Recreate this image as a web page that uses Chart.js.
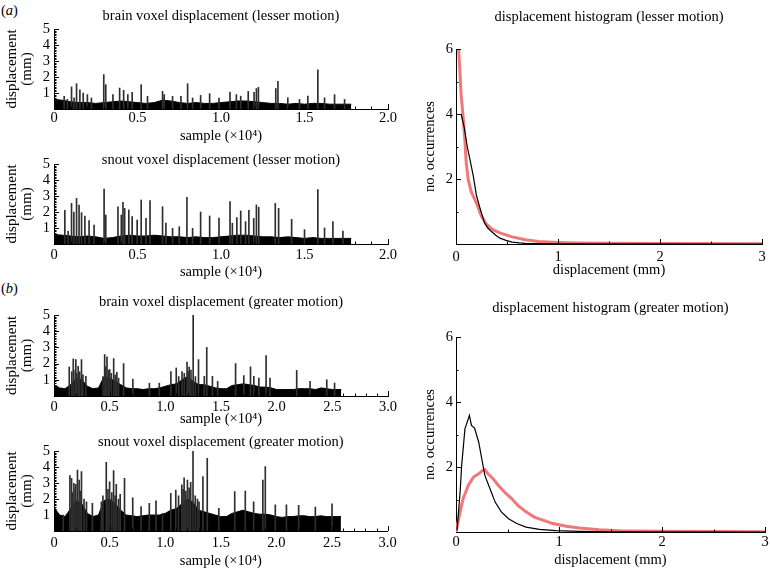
<!DOCTYPE html>
<html>
<head>
<meta charset="utf-8">
<script src="https://cdn.jsdelivr.net/npm/chart.js@4.4.1/dist/chart.umd.min.js"></script>
<style>
body { margin: 0; background: #fff; width: 770px; height: 570px; position: relative; overflow: hidden; }
canvas { position: absolute; }
.tag { position: absolute; font: 14.5px "Liberation Serif", serif; color: #000; }
</style>
</head>
<body>
<div class="tag" style="left:1px;top:2px">(<i>a</i>)</div>
<div class="tag" style="left:1px;top:280px">(<i>b</i>)</div>
<canvas id="brainLesser" width="400" height="145" style="left:0;top:0"></canvas>
<canvas id="snoutLesser" width="400" height="137" style="left:0;top:145px"></canvas>
<canvas id="brainGreater" width="400" height="146" style="left:0;top:282px"></canvas>
<canvas id="snoutGreater" width="400" height="142" style="left:0;top:428px"></canvas>
<canvas id="histLesser" width="390" height="285" style="left:380px;top:0"></canvas>
<canvas id="histGreater" width="390" height="285" style="left:380px;top:285px"></canvas>
<script>
// ---- data (sample axis in units of 10^4 samples, displacement in mm) ----
var bandStep = 0.05;   // dense lower band read every 0.05 x10^4 samples

var brainLesserEnd = 1.78;
var brainLesserBand = [0.6,0.55,0.45,0.4,0.4,0.35,0.4,0.45,0.5,0.45,0.4,0.35,0.4,0.55,0.5,0.4,0.35,0.4,0.35,0.35,0.4,0.45,0.5,0.5,0.45,0.4,0.35,0.35,0.3,0.35,0.3,0.35,0.35,0.3,0.3,0.3];
var brainLesserSpikes = [[0.061,0.79],[0.08,0.6],[0.105,1.38],[0.12,0.7],[0.135,1.58],[0.155,1.2],[0.175,1.0],[0.2,0.9],[0.224,0.69],[0.298,2.15],[0.31,1.52],[0.353,0.9],[0.393,1.31],[0.417,1.17],[0.442,0.9],[0.468,1.04],[0.522,1.52],[0.56,0.79],[0.65,1.1],[0.66,0.9],[0.71,0.79],[0.76,0.79],[0.8,1.58],[0.83,0.69],[0.878,0.85],[0.932,0.96],[0.988,0.69],[1.054,1.05],[1.092,0.9],[1.118,0.8],[1.163,1.1],[1.198,1.04],[1.212,1.28],[1.224,1.35],[1.328,1.28],[1.341,1.73],[1.4,0.7],[1.47,0.6],[1.52,0.8],[1.58,2.45],[1.62,0.7],[1.68,0.9],[1.74,0.6]];

var snoutLesserEnd = 1.78;
var snoutLesserBand = [0.6,0.55,0.5,0.45,0.5,0.45,0.35,0.4,0.5,0.55,0.5,0.5,0.55,0.5,0.45,0.45,0.4,0.45,0.4,0.4,0.45,0.5,0.55,0.55,0.5,0.45,0.45,0.4,0.45,0.4,0.35,0.4,0.35,0.35,0.35,0.35];
var snoutLesserSpikes = [[0.065,2.1],[0.085,0.8],[0.105,2.54],[0.119,2.0],[0.135,2.85],[0.15,2.44],[0.165,1.96],[0.185,1.75],[0.21,1.46],[0.24,1.19],[0.3,3.44],[0.31,1.81],[0.383,2.33],[0.403,1.81],[0.413,2.6],[0.423,2.23],[0.448,2.13],[0.468,1.71],[0.498,1.5],[0.522,2.75],[0.551,1.6],[0.575,2.71],[0.65,2.33],[0.67,1.3],[0.71,0.98],[0.75,1.08],[0.796,2.92],[0.83,0.98],[0.878,2.0],[0.932,1.75],[0.988,1.62],[1.054,2.65],[1.068,1.3],[1.095,1.65],[1.118,2.07],[1.147,1.4],[1.167,2.1],[1.196,1.6],[1.212,2.44],[1.226,2.3],[1.325,2.54],[1.345,2.23],[1.423,1.54],[1.5,0.9],[1.58,3.4],[1.62,1.0],[1.67,1.4],[1.73,0.8]];

var brainGreaterEnd = 2.58;
var brainGreaterBand = [0.7,0.5,0.45,0.7,1.1,1.0,0.6,0.45,0.5,1.2,1.1,0.9,0.7,0.5,0.45,0.45,0.4,0.45,0.45,0.5,0.6,0.7,0.75,1.0,1.2,0.9,0.7,0.7,0.6,0.5,0.45,0.45,0.65,0.7,0.75,0.7,0.65,0.55,0.55,0.5,0.4,0.4,0.4,0.4,0.45,0.45,0.45,0.4,0.5,0.45,0.4,0.4];
var brainGreaterSpikes = [[0.137,1.79],[0.16,1.5],[0.173,2.29],[0.19,1.6],[0.196,2.25],[0.205,1.4],[0.217,1.83],[0.23,1.5],[0.247,2.25],[0.26,1.3],[0.286,1.21],[0.44,1.2],[0.455,2.56],[0.465,1.8],[0.476,2.42],[0.49,1.6],[0.5,1.63],[0.515,1.4],[0.536,2.31],[0.55,1.3],[0.565,1.46],[0.58,1.1],[0.625,2.0],[0.708,1.04],[0.857,0.79],[0.946,0.79],[1.05,1.5],[1.098,1.73],[1.12,1.2],[1.15,1.5],[1.17,1.4],[1.195,2.1],[1.205,1.5],[1.214,1.79],[1.23,1.6],[1.25,5.0],[1.27,1.2],[1.298,2.25],[1.35,1.21],[1.372,3.0],[1.423,1.21],[1.47,0.9],[1.631,2.0],[1.705,1.26],[1.765,1.8],[1.795,1.21],[1.84,1.1],[1.905,2.5],[1.94,1.1],[2.18,1.58],[2.3,0.9],[2.45,1.0],[2.52,0.8]];

var snoutGreaterEnd = 2.58;
var snoutGreaterBand = [1.5,1.0,0.9,1.4,1.9,1.7,1.1,0.9,1.0,1.9,2.0,1.7,1.3,1.0,0.95,0.9,0.95,1.0,1.0,1.0,1.1,1.3,1.4,1.7,2.0,1.8,1.3,1.2,1.1,1.0,0.9,0.9,1.1,1.2,1.3,1.2,1.1,1.05,1.05,1.0,0.9,0.85,0.9,0.9,0.95,0.95,0.9,0.9,0.95,0.9,0.9,0.9];
var snoutGreaterSpikes = [[0.083,1.0],[0.143,3.46],[0.158,3.29],[0.165,2.4],[0.179,2.98],[0.19,2.6],[0.196,2.92],[0.211,3.81],[0.226,3.19],[0.235,2.5],[0.247,3.71],[0.27,2.0],[0.292,1.83],[0.345,1.73],[0.426,1.83],[0.44,2.2],[0.47,4.29],[0.485,2.6],[0.5,3.08],[0.52,2.4],[0.536,3.77],[0.55,2.2],[0.56,2.92],[0.58,2.0],[0.595,2.29],[0.634,3.29],[0.708,2.08],[0.783,1.52],[0.857,1.73],[0.917,1.88],[0.976,1.1],[1.05,2.35],[1.095,2.56],[1.12,2.2],[1.149,2.88],[1.16,2.6],[1.17,3.33],[1.185,2.5],[1.2,3.19],[1.215,2.7],[1.229,3.04],[1.25,5.0],[1.27,2.2],[1.29,2.0],[1.304,1.83],[1.339,3.4],[1.378,4.54],[1.482,1.42],[1.625,2.46],[1.72,2.5],[1.795,1.83],[1.878,3.19],[1.9,4.02],[1.99,1.63],[2.09,1.63],[2.2,1.6],[2.35,1.5],[2.5,1.7]];

// histograms: [displacement mm, no. occurrences]
var lesserBrainHist = [[0.05,4.0],[0.08,3.6],[0.11,3.0],[0.14,2.55],[0.17,2.08],[0.2,1.5],[0.23,1.16],[0.26,0.85],[0.28,0.65],[0.31,0.5],[0.345,0.39],[0.39,0.27],[0.43,0.18],[0.49,0.11],[0.55,0.06],[0.62,0.035],[0.68,0.02],[0.8,0.01],[1.0,0.005],[3.0,0.0]];
var lesserSnoutHist = [[0.025,6.0],[0.035,5.5],[0.05,4.6],[0.07,3.9],[0.087,3.2],[0.1,2.5],[0.12,1.98],[0.15,1.6],[0.2,1.26],[0.25,0.85],[0.3,0.6],[0.36,0.44],[0.43,0.34],[0.55,0.22],[0.68,0.13],[0.81,0.08],[1.0,0.05],[1.2,0.03],[1.5,0.02],[2.0,0.015],[3.0,0.01]];
var greaterBrainHist = [[0.01,0.05],[0.04,1.23],[0.055,2.05],[0.087,3.18],[0.12,3.49],[0.13,3.59],[0.15,3.28],[0.18,3.2],[0.22,2.77],[0.25,2.26],[0.28,1.74],[0.33,1.33],[0.38,0.92],[0.44,0.62],[0.51,0.41],[0.59,0.26],[0.68,0.15],[0.81,0.08],[0.97,0.04],[1.2,0.02],[1.5,0.005],[3.0,0.0]];
var greaterSnoutHist = [[0.0,0.0],[0.04,0.62],[0.07,1.03],[0.12,1.44],[0.17,1.69],[0.22,1.79],[0.26,1.9],[0.28,1.92],[0.31,1.79],[0.36,1.64],[0.41,1.44],[0.47,1.23],[0.54,1.03],[0.6,0.82],[0.68,0.62],[0.76,0.46],[0.85,0.36],[0.94,0.26],[1.07,0.18],[1.2,0.12],[1.39,0.07],[1.59,0.04],[2.0,0.02],[3.0,0.01]];

// tick values and labels
var sampleTicksA = [0, 0.5, 1.0, 1.5, 2.0];
var sampleLabelsA = ['0', '0.5', '1.0', '1.5', '2.0'];
var sampleTicksB = [0, 0.5, 1.0, 1.5, 2.0, 2.5, 3.0];
var sampleLabelsB = ['0', '0.5', '1.0', '1.5', '2.0', '2.5', '3.0'];
var mmTicks = [1, 2, 3, 4, 5];
var histXTicks = [0, 1, 2, 3];
var histYTicks = [2, 4, 6];

var serif = '"Liberation Serif", "Times New Roman", serif';
var half = 8.7; // half line height of the 14.5px font

// small inward tick marks, drawn from the scales
var inTicks = {
    id: 'inTicks',
    afterDatasetsDraw: function (chart, args, o) {
        var ctx = chart.ctx, area = chart.chartArea;
        var xs = chart.scales.x, ys = chart.scales.y;
        var v;
        ctx.save();
        ctx.strokeStyle = '#000';
        ctx.lineWidth = 1;
        ctx.beginPath();
        for (v = o.xMinor; v <= xs.max + 1e-9; v += o.xMinor) {
            var major = Math.abs(v / o.xMajor - Math.round(v / o.xMajor)) < 1e-6;
            var px = Math.round(xs.getPixelForValue(v)) + 0.5;
            ctx.moveTo(px, area.bottom);
            ctx.lineTo(px, area.bottom - (major ? 5 : 2.5));
        }
        for (v = o.yMinor; v <= ys.max + 1e-9; v += o.yMinor) {
            var majorY = Math.abs(v / o.yMajor - Math.round(v / o.yMajor)) < 1e-6;
            var py = Math.round(ys.getPixelForValue(v)) + 0.5;
            ctx.moveTo(area.left, py);
            ctx.lineTo(area.left + (majorY ? 5 : 2.5), py);
        }
        ctx.stroke();
        ctx.restore();
    }
};

function toPoints(list) {
    return list.map(function (p) { return {x: p[0], y: p[1]}; });
}

function bandPoints(band, end) {
    var pts = band.map(function (v, i) { return {x: i * bandStep, y: v}; });
    pts.push({x: end, y: band[band.length - 1]});
    return pts;
}

function seriesPanel(id, title, band, spikes, end, ticks, labels, g) {
    new Chart(document.getElementById(id), {
        type: 'bar',
        data: {
            datasets: [{
                type: 'bar',
                data: toPoints(spikes),
                backgroundColor: '#2e2e2e',
                barThickness: 1,
                order: 1
            }, {
                type: 'line',
                data: bandPoints(band, end),
                fill: 'origin',
                backgroundColor: '#000',
                borderColor: '#000',
                borderWidth: 1,
                pointRadius: 0,
                order: 2
            }]
        },
        options: {
            responsive: false,
            animation: false,
            events: [],
            layout: {padding: {top: 0, left: 0, bottom: 0, right: 400 - 388}},
            plugins: {
                legend: {display: false},
                tooltip: {enabled: false},
                title: {
                    display: true,
                    text: title,
                    fullSize: false,
                    color: '#000',
                    font: {family: serif, size: 14.5, weight: 'normal'},
                    padding: {top: g.titleY - half, bottom: g.chartTop - g.titleY - half}
                },
                inTicks: {xMajor: 0.5, xMinor: 0.1, yMajor: 1, yMinor: 0.1}
            },
            scales: {
                x: {
                    type: 'linear',
                    min: 0,
                    max: ticks[ticks.length - 1],
                    offset: false,
                    grid: {display: false, drawTicks: false},
                    border: {display: true, color: '#000', width: 1},
                    afterBuildTicks: function (s) { s.ticks = ticks.map(function (v) { return {value: v}; }); },
                    afterFit: function (s) { s.height = g.height - g.chartBottom; },
                    ticks: {
                        color: '#000',
                        font: {family: serif, size: 14.5},
                        padding: g.tickY - g.chartBottom - half,
                        maxRotation: 0,
                        autoSkip: false,
                        callback: function (v) { return labels[ticks.indexOf(v)]; }
                    },
                    title: {
                        display: true,
                        text: 'sample (×10⁴)',
                        color: '#000',
                        font: {family: serif, size: 14.5},
                        padding: {top: 0, bottom: Math.max(g.height - g.xTitleY - half, 0)}
                    }
                },
                y: {
                    min: 0,
                    max: 5,
                    grid: {display: false, drawTicks: false},
                    border: {display: true, color: '#000', width: 1},
                    afterBuildTicks: function (s) { s.ticks = mmTicks.map(function (v) { return {value: v}; }); },
                    afterFit: function (s) { s.width = 54; },
                    ticks: {color: '#000', font: {family: serif, size: 14.5}, padding: 4, autoSkip: false},
                    title: {
                        display: true,
                        text: ['displacement', '(mm)'],
                        color: '#000',
                        font: {family: serif, size: 15, lineHeight: 1},
                        padding: {top: 4.5, bottom: 0}
                    }
                }
            }
        },
        plugins: [inTicks]
    });
}

function histPanel(id, title, brain, snout, g) {
    new Chart(document.getElementById(id), {
        type: 'line',
        data: {
            datasets: [{
                label: 'brain',
                data: toPoints(brain),
                borderColor: '#000',
                borderWidth: 1.2,
                pointRadius: 0,
                order: 1
            }, {
                label: 'snout',
                data: toPoints(snout),
                borderColor: '#f07878',
                borderWidth: 3,
                pointRadius: 0,
                order: 2
            }]
        },
        options: {
            responsive: false,
            animation: false,
            events: [],
            layout: {padding: {top: 0, left: 0, bottom: 0, right: 5}},
            plugins: {
                legend: {display: false},
                tooltip: {enabled: false},
                title: {
                    display: true,
                    text: title,
                    fullSize: false,
                    color: '#000',
                    font: {family: serif, size: 14.5, weight: 'normal'},
                    padding: {top: g.titleY - half, bottom: g.chartTop - g.titleY - half}
                },
                inTicks: {xMajor: 1, xMinor: 0.5, yMajor: 2, yMinor: 1}
            },
            scales: {
                x: {
                    type: 'linear',
                    min: 0,
                    max: 3,
                    grid: {display: false, drawTicks: false},
                    border: {display: true, color: '#000', width: 1},
                    afterBuildTicks: function (s) { s.ticks = histXTicks.map(function (v) { return {value: v}; }); },
                    afterFit: function (s) { s.height = g.height - g.chartBottom; },
                    ticks: {color: '#000', font: {family: serif, size: 14.5}, padding: g.tickY - g.chartBottom - half, maxRotation: 0, autoSkip: false},
                    title: {
                        display: true,
                        text: 'displacement (mm)',
                        color: '#000',
                        font: {family: serif, size: 14.5},
                        padding: {top: 0, bottom: g.height - g.xTitleY - half}
                    }
                },
                y: {
                    min: 0,
                    max: 6,
                    grid: {display: false, drawTicks: false},
                    border: {display: true, color: '#000', width: 1},
                    afterBuildTicks: function (s) { s.ticks = histYTicks.map(function (v) { return {value: v}; }); },
                    afterFit: function (s) { s.width = 76; },
                    ticks: {color: '#000', font: {family: serif, size: 14.5}, padding: 3, autoSkip: false},
                    title: {
                        display: true,
                        text: 'no. occurrences',
                        color: '#000',
                        font: {family: serif, size: 14.5},
                        padding: {top: 50 - half, bottom: 0}
                    }
                }
            }
        },
        plugins: [inTicks]
    });
}

seriesPanel('brainLesser', 'brain voxel displacement (lesser motion)', brainLesserBand, brainLesserSpikes, brainLesserEnd,
    sampleTicksA, sampleLabelsA, {height: 145, chartTop: 29, chartBottom: 109, titleY: 16, tickY: 118, xTitleY: 136});
seriesPanel('snoutLesser', 'snout voxel displacement (lesser motion)', snoutLesserBand, snoutLesserSpikes, snoutLesserEnd,
    sampleTicksA, sampleLabelsA, {height: 137, chartTop: 19, chartBottom: 99, titleY: 15, tickY: 110, xTitleY: 127});
seriesPanel('brainGreater', 'brain voxel displacement (greater motion)', brainGreaterBand, brainGreaterSpikes, brainGreaterEnd,
    sampleTicksB, sampleLabelsB, {height: 146, chartTop: 33, chartBottom: 114, titleY: 20, tickY: 125, xTitleY: 137});
seriesPanel('snoutGreater', 'snout voxel displacement (greater motion)', snoutGreaterBand, snoutGreaterSpikes, snoutGreaterEnd,
    sampleTicksB, sampleLabelsB, {height: 142, chartTop: 23, chartBottom: 103, titleY: 14, tickY: 115, xTitleY: 134});

histPanel('histLesser', 'displacement histogram (lesser motion)', lesserBrainHist, lesserSnoutHist,
    {height: 285, chartTop: 49, chartBottom: 244, titleY: 17, tickY: 257, xTitleY: 270});
histPanel('histGreater', 'displacement histogram (greater motion)', greaterBrainHist, greaterSnoutHist,
    {height: 285, chartTop: 52, chartBottom: 247, titleY: 23, tickY: 257, xTitleY: 275});
</script>
</body>
</html>
